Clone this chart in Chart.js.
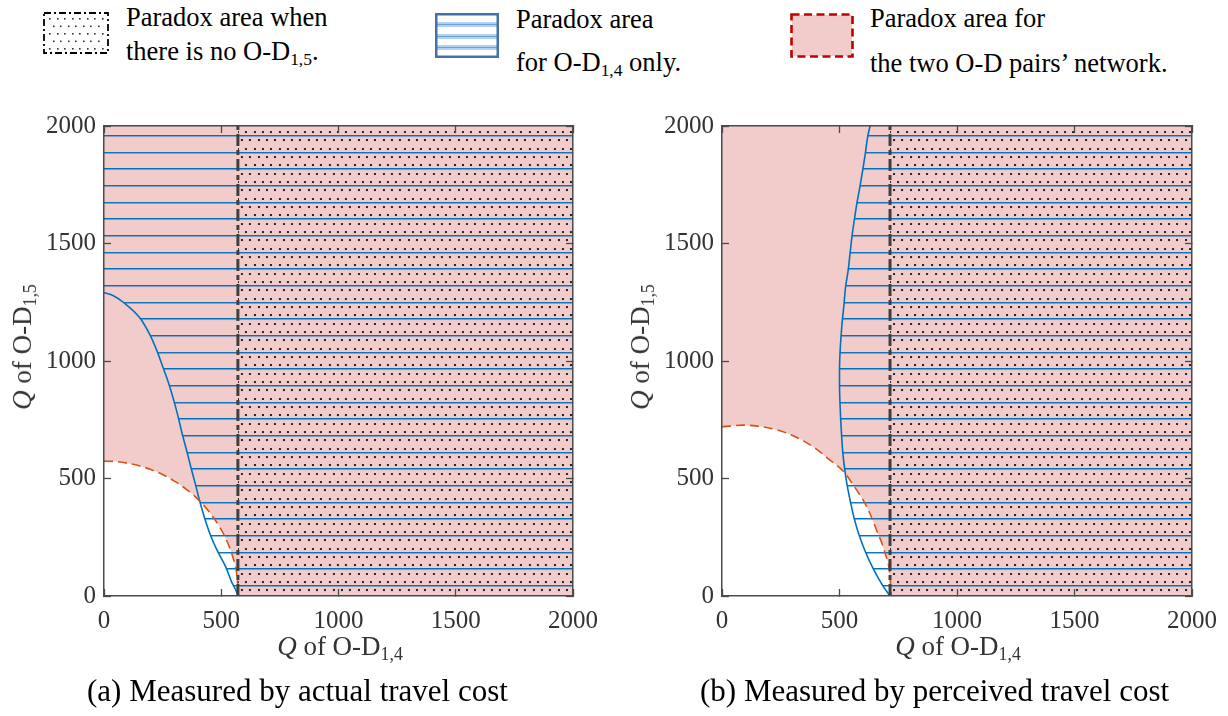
<!DOCTYPE html>
<html>
<head>
<meta charset="utf-8">
<script src="https://cdn.jsdelivr.net/npm/chart.js@4.4.1/dist/chart.umd.min.js"></script>
<style>
  html, body { margin: 0; padding: 0; background: #fff; }
  body { width: 1228px; height: 716px; position: relative; overflow: hidden;
         font-family: "Liberation Serif", "Times New Roman", serif; color: #000; }
  .panel { position: absolute; top: 100px; width: 614px; height: 580px; }
  .icon { position: absolute; }
  .lt { position: absolute; font-size: 26.5px; line-height: 30px; white-space: nowrap; }
  .cap { position: absolute; font-size: 31px; line-height: 36px; white-space: nowrap; }
  .atitle { position: absolute; font-size: 27px; line-height: 27px; white-space: nowrap; color: #333; }
  .hcenter { transform: translateX(-50%); }
  .rot { transform: translate(-50%, -50%) rotate(-90deg); }
  .sub { font-size: 0.66em; position: relative; top: 0.3em; }
</style>
</head>
<body>

<canvas class="icon" id="iconDots" width="66" height="42" style="left:43px;top:12px"></canvas>
<div class="lt" style="left:126px;top:2px">Paradox area when</div>
<div class="lt" style="left:126px;top:36px">there is no O-D<span class="sub">1,5</span>.</div>

<canvas class="icon" id="iconHatch" width="64" height="45" style="left:435px;top:13px"></canvas>
<div class="lt" style="left:516px;top:4px">Paradox area</div>
<div class="lt" style="left:516px;top:47px">for O-D<span class="sub">1,4</span> only.</div>

<canvas class="icon" id="iconPink" width="64" height="45" style="left:790px;top:13px"></canvas>
<div class="lt" style="left:870px;top:3px">Paradox area for</div>
<div class="lt" style="left:870px;top:48px">the two O-D pairs’ network.</div>

<div class="panel" style="left:0"><canvas id="chartA" width="614" height="580"></canvas></div>
<div class="panel" style="left:614px"><canvas id="chartB" width="614" height="580"></canvas></div>

<div class="atitle hcenter" style="left:340px;top:633px"><i>Q</i> of O-D<span class="sub">1,4</span></div>
<div class="atitle hcenter" style="left:958px;top:633px"><i>Q</i> of O-D<span class="sub">1,4</span></div>
<div class="atitle rot" style="left:24px;top:347px"><i>Q</i> of O-D<span class="sub">1,5</span></div>
<div class="atitle rot" style="left:642px;top:347px"><i>Q</i> of O-D<span class="sub">1,5</span></div>

<div class="cap" style="left:87px;top:673px">(a) Measured by actual travel cost</div>
<div class="cap" style="left:700px;top:673px">(b) Measured by perceived travel cost</div>

<script>
// axis range and tick marks (both panels)
const axisMin = 0;
const axisMax = 2000;
const tickValues = [0, 500, 1000, 1500, 2000];

// (a) actual travel cost
const actualSplitX = 571; // paradox threshold without O-D 1,5
const actualBlueX = [0, 40, 82, 154, 196, 227, 253, 278, 299, 317, 334, 353, 371, 390, 408, 428, 452, 483, 520, 544, 568, 571];
const actualBlueY = [1291, 1278, 1250, 1182, 1111, 1040, 969, 898, 827, 759, 688, 617, 546, 475, 404, 335, 264, 193, 122, 60, 11, 0];
const actualRedX = [0, 50, 100, 150, 200, 250, 300, 350, 400, 450, 500, 530, 550, 565, 574];
const actualRedY = [574, 572, 565, 554, 538, 517, 489, 455, 412, 356, 282, 220, 164, 101, 0];

// (b) perceived travel cost
const perceivedSplitX = 715;
const perceivedBlueX = [715, 684, 644, 611, 584, 563, 547, 533, 522, 514, 509, 505, 502, 500, 500, 503, 510, 519, 526, 537, 545, 553, 563, 574, 587, 599, 610, 620, 630];
const perceivedBlueY = [0, 44, 115, 186, 257, 328, 399, 469, 540, 611, 682, 753, 823, 900, 960, 1050, 1150, 1240, 1316, 1387, 1458, 1529, 1600, 1671, 1742, 1813, 1884, 1955, 2000];
const perceivedRedX = [0, 50, 90, 150, 200, 250, 300, 350, 400, 450, 519, 552, 616, 658, 694, 715, 720];
const perceivedRedY = [720, 725, 727, 723, 715, 702, 683, 658, 626, 586, 528, 482, 380, 280, 182, 82, 0];

const PINK = '#F2CBCB';
const BLUE = '#0072BD';
const ORANGE = '#D95319';
const AXIS_COLOR = '#4a4a4a';

function pts(xs, ys) {
  return xs.map((x, i) => ({ x, y: ys[i] }));
}

// 50px tile: three hatch rules 16.7px apart, optional staggered dot grid
function patternTile(withDots) {
  const c = document.createElement('canvas');
  c.width = 50; c.height = 50;
  const g = c.getContext('2d');
  for (let k = 0; k < 3; k++) {
    const y = Math.round(k * 50 / 3);
    g.fillStyle = 'rgba(0,114,189,0.45)';
    g.fillRect(0, y + 1, 50, 1);
    g.fillStyle = BLUE;
    g.fillRect(0, y, 50, 1);
  }
  if (withDots) {
    g.fillStyle = '#222';
    for (let r = 0; r < 6; r++) {
      const y = Math.round((r + 0.5) * 50 / 6);
      for (let k = 0; k < 6; k++) {
        const x = Math.round((k + (r % 2) * 0.5) * 50 / 6);
        g.fillRect(x, y, 2, 2);
      }
    }
  }
  return c;
}

function axis(position, withLabels, size) {
  return {
    type: 'linear',
    position,
    min: axisMin,
    max: axisMax,
    afterBuildTicks: (s) => { s.ticks = tickValues.map((v) => ({ value: v })); },
    afterFit: (s) => {
      if (s.isHorizontal()) s.height = size; else s.width = size;
      // plot box comes from layout padding only
      s.paddingTop = s.paddingBottom = s.paddingLeft = s.paddingRight = 0;
    },
    grid: { drawOnChartArea: false, drawTicks: true, tickLength: -7, tickColor: AXIS_COLOR, tickWidth: 1.3, z: 1 },
    border: { display: true, color: AXIS_COLOR, width: 1.5, z: 1 },
    ticks: {
      display: withLabels,
      font: { family: 'Liberation Serif', size: 25 },
      color: '#333',
      padding: position === 'bottom' ? 17 : 15,
      callback: (v) => String(v),
    },
  };
}

function makePanel(canvas, p) {
  const ctx = canvas.getContext('2d');
  const hatch = ctx.createPattern(patternTile(false), 'repeat');
  const hatchDots = ctx.createPattern(patternTile(true), 'repeat');
  const blue = pts(p.blueX, p.blueY);
  const red = pts(p.redX, p.redY);
  const blueByY = p.blueAxis === 'y';

  // keep the hatch rules and dots locked to the plot area
  const anchorPatterns = {
    id: 'anchorPatterns',
    beforeDatasetsDraw(chart) {
      const m = new DOMMatrix().translate(chart.scales.x.getPixelForValue(p.splitX) + 3, chart.chartArea.bottom - 11);
      hatch.setTransform(m);
      hatchDots.setTransform(m);
    },
  };

  const none = { borderWidth: 0, borderColor: 'transparent', pointRadius: 0 };

  return new Chart(ctx, {
    type: 'line',
    data: {
      datasets: [
        { ...none, label: 'threshold', data: [{ x: p.splitX, y: axisMin }, { x: p.splitX, y: axisMax }],
          borderColor: '#3f3f3f', borderWidth: 3, borderDash: [12, 4, 5, 4], fill: false, order: 1 },
        { ...none, label: 'two-pair boundary', data: red, borderColor: ORANGE, borderWidth: 1.6,
          borderDash: [9, 5], fill: false, cubicInterpolationMode: 'monotone', order: 2 },
        { ...none, label: 'O-D 1,4 boundary', data: blue, indexAxis: p.blueAxis, borderColor: BLUE,
          borderWidth: 1.6, fill: false, cubicInterpolationMode: 'monotone', order: 3 },
        { ...none, label: 'no O-D 1,5 area', data: [{ x: p.splitX, y: axisMax }, { x: axisMax, y: axisMax }],
          backgroundColor: hatchDots, fill: { value: axisMin }, order: 4 },
        { ...none, label: 'O-D 1,4 area', data: blue, indexAxis: p.blueAxis, backgroundColor: hatch,
          fill: { value: blueByY ? p.splitX : axisMax }, cubicInterpolationMode: 'monotone', order: 5 },
        { ...none, label: 'no paradox', data: red, backgroundColor: '#ffffff',
          fill: { value: axisMin }, cubicInterpolationMode: 'monotone', order: 6 },
        { ...none, label: 'two-pair area', data: [{ x: axisMin, y: axisMax }, { x: axisMax, y: axisMax }],
          backgroundColor: PINK, fill: { value: axisMin }, order: 7 },
      ],
    },
    options: {
      responsive: false,
      animation: false,
      events: [],
      layout: { padding: { top: 26, left: 0, right: p.padRight, bottom: 24 } },
      elements: { point: { radius: 0 } },
      plugins: { legend: { display: false }, tooltip: { enabled: false } },
      scales: {
        x: axis('bottom', true, 60),
        y: axis('left', true, p.yWidth),
        x2: axis('top', false, 0),
        y2: axis('right', false, 0),
      },
    },
    plugins: [anchorPatterns],
  });
}

makePanel(document.getElementById('chartA'), {
  splitX: actualSplitX, blueX: actualBlueX, blueY: actualBlueY, blueAxis: 'x',
  redX: actualRedX, redY: actualRedY, yWidth: 104, padRight: 41,
});
makePanel(document.getElementById('chartB'), {
  splitX: perceivedSplitX, blueX: perceivedBlueX, blueY: perceivedBlueY, blueAxis: 'y',
  redX: perceivedRedX, redY: perceivedRedY, yWidth: 108, padRight: 36,
});

// legend swatches
(function drawIcons() {
  let g = document.getElementById('iconDots').getContext('2d');
  g.fillStyle = '#333';
  for (let r = 0; r < 5; r++) {
    for (let c = 0; c < 8; c++) {
      const x = 6 + c * 7.5 + (r % 2) * 3.7;
      if (x > 60) continue;
      g.fillRect(Math.round(x), 6 + r * 7.5, 1.6, 1.6);
    }
  }
  g.strokeStyle = '#000';
  g.lineWidth = 1.8;
  g.setLineDash([7, 3, 2, 3]);
  g.strokeRect(1, 1, 64, 40);

  g = document.getElementById('iconHatch').getContext('2d');
  for (let k = 1; k < 4; k++) {
    const y = Math.round(k * 45 / 4);
    g.fillStyle = '#b3d0ee';
    g.fillRect(2, y - 2, 60, 5);
    g.fillStyle = '#6fa3d8';
    g.fillRect(2, y, 60, 1);
  }
  g.strokeStyle = '#4472a8';
  g.lineWidth = 2.5;
  g.strokeRect(1.25, 1.25, 61.5, 42.5);

  g = document.getElementById('iconPink').getContext('2d');
  g.fillStyle = PINK;
  g.fillRect(2, 2, 60, 41);
  g.strokeStyle = '#C00000';
  g.lineWidth = 2.6;
  g.setLineDash([8, 4.5]);
  g.strokeRect(1.5, 1.5, 61, 42);
})();
</script>
</body>
</html>
